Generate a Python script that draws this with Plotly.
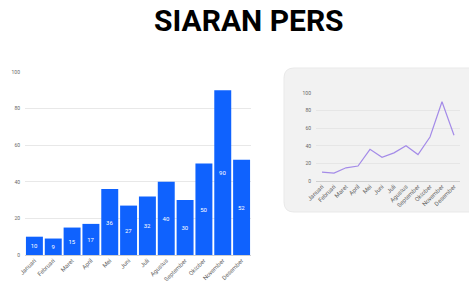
import plotly.graph_objects as go

months = ["Januari", "Februari", "Maret", "April", "Mei", "Juni", "Juli",
          "Agustus", "September", "Oktober", "November", "Desember"]
values = [10, 9, 15, 17, 36, 27, 32, 40, 30, 50, 90, 52]
y_ticks = [0, 20, 40, 60, 80, 100]

W, H = 469, 281

def px_x(p):
    return p / W

def px_y(p):
    return (H - p) / H

fig = go.Figure()

fig.add_trace(go.Bar(
    x=months, y=values, text=[str(v) for v in values],
    textposition="inside", insidetextanchor="middle",
    textfont=dict(color="white", size=6, family="Roboto"),
    marker=dict(color="#0f62fe", line=dict(width=0)),
    xaxis="x", yaxis="y", showlegend=False, hoverinfo="skip",
))

fig.add_trace(go.Scatter(
    x=months, y=values, mode="lines",
    line=dict(color="#a48be8", width=1.2),
    xaxis="x2", yaxis="y2", showlegend=False, hoverinfo="skip",
))

# rounded panel behind right chart
x0, x1 = px_x(284), px_x(490)
y0, y1 = px_y(212), px_y(68)
rx, ry = 10 / W, 10 / H
path = (f"M {x0+rx},{y0} L {x1},{y0} L {x1},{y1} L {x0+rx},{y1} "
        f"Q {x0},{y1} {x0},{y1-ry} L {x0},{y0+ry} Q {x0},{y0} {x0+rx},{y0} Z")
fig.add_shape(type="path", path=path, xref="paper", yref="paper",
              fillcolor="#f2f2f2", line=dict(color="#e9e9e9", width=1), layer="below")

ytickfont = dict(size=5, color="#666666", family="Roboto")
xtickfont = dict(size=6, color="#666666", family="Roboto")

fig.update_layout(
    template="none",
    width=W, height=H,
    margin=dict(l=0, r=0, t=0, b=0, autoexpand=False),
    paper_bgcolor="white", plot_bgcolor="rgba(0,0,0,0)",
    bargap=0.1,
    xaxis=dict(domain=[px_x(25), px_x(251)], tickangle=-45, tickfont=xtickfont,
               showgrid=False, showline=False, ticks="", anchor="y", automargin=False),
    yaxis=dict(domain=[px_y(255), px_y(72)], range=[0, 100], tickvals=y_ticks,
               tickfont=ytickfont, gridcolor="#e8e8e8", gridwidth=1,
               zeroline=True, zerolinecolor="#d0d0d0", zerolinewidth=1,
               showline=False, ticks="", anchor="x", ticklabelstandoff=4, automargin=False),
    xaxis2=dict(domain=[px_x(316), px_x(460)], range=[-0.5, 11.5], tickangle=-45,
                tickfont=xtickfont, showgrid=False, showline=False, ticks="", anchor="y2",
                automargin=False),
    yaxis2=dict(domain=[px_y(181), px_y(93)], range=[0, 100], tickvals=y_ticks,
                tickfont=ytickfont, gridcolor="#e6e6e6", gridwidth=1,
                zeroline=True, zerolinecolor="#cfcfcf", zerolinewidth=1,
                showline=False, ticks="", anchor="x2", ticklabelstandoff=4, automargin=False),
    annotations=[dict(text="<b>SIARAN PERS</b>", x=px_x(249), y=px_y(21),
                      xref="paper", yref="paper", showarrow=False,
                      xanchor="center", yanchor="middle",
                      font=dict(size=30, color="black", family="Roboto"))],
)

fig.write_html("out.html", config={"displayModeBar": False},
               post_script="document.body.style.margin='0px';document.body.style.overflow='hidden';")
